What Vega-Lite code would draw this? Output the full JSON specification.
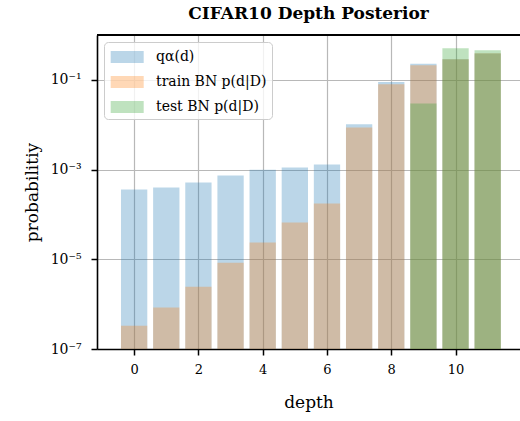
{
  "$schema": "https://vega.github.io/schema/vega-lite/v6.json",
  "width": 423,
  "height": 314,
  "autosize": {"type": "none"},
  "padding": {"left": 97, "top": 35, "right": 0, "bottom": 72},
  "background": "white",
  "title": {"text": "CIFAR10 Depth Posterior", "font": "DejaVu Serif", "fontSize": 17, "fontWeight": "bold", "color": "black", "anchor": "middle", "offset": 11},
  "config": {
    "view": {"stroke": null},
    "axis": {
      "domainColor": "black", "domainWidth": 1.6, "tickColor": "black", "tickWidth": 1.5, "tickSize": 6,
      "labelFont": "DejaVu Serif", "labelFontSize": 13, "labelColor": "black",
      "titleFont": "DejaVu Serif", "titleFontSize": 17, "titleFontWeight": "normal", "titleColor": "black",
      "gridColor": "#b8b8b8", "gridWidth": 1.2, "gridOpacity": 1
    }
  },
  "data": {"values": [
    {"depth": 0, "series": "q", "p": 3.6e-4},
    {"depth": 1, "series": "q", "p": 3.98e-4},
    {"depth": 2, "series": "q", "p": 5.15e-4},
    {"depth": 3, "series": "q", "p": 7.38e-4},
    {"depth": 4, "series": "q", "p": 9.9e-4},
    {"depth": 5, "series": "q", "p": 1.11e-3},
    {"depth": 6, "series": "q", "p": 1.30e-3},
    {"depth": 7, "series": "q", "p": 1.02e-2},
    {"depth": 8, "series": "q", "p": 0.0893},
    {"depth": 9, "series": "q", "p": 0.230},
    {"depth": 10, "series": "q", "p": 0.287},
    {"depth": 11, "series": "q", "p": 0.385},
    {"depth": 0, "series": "train", "p": 3.3e-7},
    {"depth": 1, "series": "train", "p": 8.4e-7},
    {"depth": 2, "series": "train", "p": 2.45e-6},
    {"depth": 3, "series": "train", "p": 8.4e-6},
    {"depth": 4, "series": "train", "p": 2.36e-5},
    {"depth": 5, "series": "train", "p": 6.6e-5},
    {"depth": 6, "series": "train", "p": 1.75e-4},
    {"depth": 7, "series": "train", "p": 8.7e-3},
    {"depth": 8, "series": "train", "p": 0.0794},
    {"depth": 9, "series": "train", "p": 0.211},
    {"depth": 10, "series": "train", "p": 0.287},
    {"depth": 11, "series": "train", "p": 0.39},
    {"depth": 9, "series": "test", "p": 0.0299},
    {"depth": 10, "series": "test", "p": 0.505},
    {"depth": 11, "series": "test", "p": 0.455}
  ]},
  "layer": [
    {
      "mark": {"type": "bar", "size": 26.3, "opacity": 0.3},
      "encoding": {
        "x": {"field": "depth", "type": "quantitative",
              "scale": {"domain": [-1, 11.85], "nice": false, "zero": false},
              "axis": {"values": [0, 2, 4, 6, 8, 10], "title": "depth", "grid": true, "labelPadding": 8, "titlePadding": 18}},
        "y": {"field": "p", "type": "quantitative", "stack": null,
              "scale": {"type": "log", "domain": [1e-7, 1], "nice": false},
              "axis": {"values": [1e-7, 1e-5, 1e-3, 1e-1], "title": "probabilitiy", "grid": true, "labelPadding": 10, "titlePadding": 9, "labelFontSize": 14,
                       "labelExpr": "datum.value < 1e-6 ? '10⁻⁷' : datum.value < 1e-4 ? '10⁻⁵' : datum.value < 1e-2 ? '10⁻³' : '10⁻¹'"}},
        "color": {"field": "series", "type": "nominal",
                  "scale": {"domain": ["q", "train", "test"], "range": ["#1f77b4", "#ff7f0e", "#2ca02c"]},
                  "legend": {
                    "title": null, "orient": "top-left", "offset": 7,
                    "labelExpr": "datum.value == 'q' ? 'qα(d)' : datum.value == 'train' ? 'train BN p(d|D)' : 'test BN p(d|D)'",
                    "labelFont": "DejaVu Serif", "labelFontSize": 14, "labelColor": "black",
                    "symbolType": "M-1.65,-0.6H1.65V0.6H-1.65Z", "symbolSize": 400, "symbolOpacity": 0.3, "symbolStrokeWidth": 0,
                    "symbolOffset": 8.2, "labelOffset": 18.8, "rowPadding": 8, "padding": 5,
                    "strokeColor": "#cccccc", "fillColor": "rgba(255,255,255,0.8)", "cornerRadius": 4
                  }}
      }
    },
    {
      "mark": {"type": "rule", "color": "black", "strokeWidth": 1.6},
      "encoding": {"y": {"datum": 1}}
    }
  ]
}
